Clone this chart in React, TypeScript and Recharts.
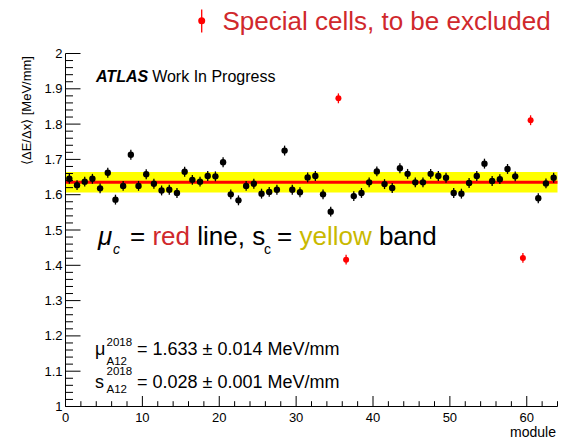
import React from "react";
import {
  ScatterChart,
  Scatter,
  XAxis,
  YAxis,
  ErrorBar,
  ReferenceArea,
  ReferenceLine,
} from "recharts";

// mean dE/dx per module, A12 cells, 2018
const VALUES = [
  1.645, 1.627, 1.637, 1.645, 1.618, 1.662, 1.586, 1.625, 1.713, 1.625,
  1.658, 1.631, 1.612, 1.614, 1.605, 1.665, 1.642, 1.637, 1.653, 1.652,
  1.692, 1.601, 1.584, 1.625, 1.631, 1.603, 1.608, 1.614, 1.725, 1.614,
  1.607, 1.649, 1.653, 1.601, 1.552, 1.873, 1.416, 1.596, 1.605, 1.635,
  1.666, 1.630, 1.619, 1.675, 1.659, 1.635, 1.635, 1.659, 1.653, 1.648,
  1.605, 1.603, 1.633, 1.653, 1.688, 1.639, 1.644, 1.673, 1.652, 1.421,
  1.811, 1.590, 1.632, 1.648,
];
const SPECIAL_MODULES = [35, 36, 59, 60];
const ERR = 0.014;

const MU = 1.635;
const SIGMA = 0.029;

const X_LABELS = [0, 10, 20, 30, 40, 50, 60];
const X_TICKS = [
  0, 2, 4, 6, 8, 10, 12, 14, 16, 18, 20, 22, 24, 26, 28, 30, 32, 34, 36, 38,
  40, 42, 44, 46, 48, 50, 52, 54, 56, 58, 60, 62, 64,
];
const Y_LABELS = [1, 1.1, 1.2, 1.3, 1.4, 1.5, 1.6, 1.7, 1.8, 1.9, 2];
const Y_TICKS = [
  1, 1.02, 1.04, 1.06, 1.08, 1.1, 1.12, 1.14, 1.16, 1.18, 1.2, 1.22, 1.24,
  1.26, 1.28, 1.3, 1.32, 1.34, 1.36, 1.38, 1.4, 1.42, 1.44, 1.46, 1.48, 1.5,
  1.52, 1.54, 1.56, 1.58, 1.6, 1.62, 1.64, 1.66, 1.68, 1.7, 1.72, 1.74, 1.76,
  1.78, 1.8, 1.82, 1.84, 1.86, 1.88, 1.9, 1.92, 1.94, 1.96, 1.98, 2,
];

const FONT = "'Liberation Sans', Arial, Helvetica, sans-serif";

const points = VALUES.map((v, i) => ({ x: i + 0.5, y: v, err: ERR, mod: i }));
const normalData = points.filter((p) => !SPECIAL_MODULES.includes(p.mod));
const specialData = points.filter((p) => SPECIAL_MODULES.includes(p.mod));

const isMajorX = (v: number) => X_LABELS.includes(v);
const isMajorY = (v: number) => Y_LABELS.some((l) => Math.abs(l - v) < 1e-6);

function BottomTick(props: any) {
  const { x, y, payload } = props;
  const major = isMajorX(payload.value);
  return (
    <g>
      <line x1={x} x2={x} y1={y} y2={y - (major ? 10.5 : 5.3)} stroke="#000" />
      {major && (
        <text x={x} y={y + 15} textAnchor="middle" fontSize={13} fontFamily={FONT} fill="#000">
          {payload.value}
        </text>
      )}
    </g>
  );
}

function TopTick(props: any) {
  const { x, y, payload } = props;
  const major = isMajorX(payload.value);
  return <line x1={x} x2={x} y1={y} y2={y + (major ? 10.5 : 5.3)} stroke="#000" />;
}

function LeftTick(props: any) {
  const { x, y, payload } = props;
  const major = isMajorY(payload.value);
  const v: number = payload.value;
  const label = Math.abs(v - Math.round(v)) < 1e-6 ? String(Math.round(v)) : v.toFixed(1);
  return (
    <g>
      <line x1={x} x2={x + (major ? 15 : 7.5)} y1={y} y2={y} stroke="#000" />
      {major && (
        <text x={x - 3} y={y + 4.5} textAnchor="end" fontSize={13} fontFamily={FONT} fill="#000">
          {label}
        </text>
      )}
    </g>
  );
}

function RightTick(props: any) {
  const { x, y, payload } = props;
  const major = isMajorY(payload.value);
  return <line x1={x} x2={x - (major ? 15 : 7.5)} y1={y} y2={y} stroke="#000" />;
}

const BlackDot = (p: any) => <circle cx={p.cx} cy={p.cy} r={3.2} fill="#000" />;
const RedDot = (p: any) => <circle cx={p.cx} cy={p.cy} r={3} fill="#ff0000" />;

export default function App() {
  return (
    <div style={{ position: "absolute", left: 0, top: 0, width: 562, height: 441, background: "#fff" }}>
      <ScatterChart
        width={562}
        height={441}
        margin={{ top: 53.5, right: 4.5, bottom: 4.5, left: 0 }}
      >
        <XAxis
          xAxisId={0}
          type="number"
          dataKey="x"
          domain={[0, 64]}
          ticks={X_TICKS}
          interval={0}
          allowDataOverflow
          height={30}
          tickSize={0}
          tickMargin={0}
          tickLine={false}
          axisLine={{ stroke: "#000" }}
          tick={<BottomTick />}
        />
        <XAxis
          xAxisId="top"
          orientation="top"
          type="number"
          dataKey="x"
          domain={[0, 64]}
          ticks={X_TICKS}
          interval={0}
          allowDataOverflow
          height={0}
          tickSize={0}
          tickMargin={0}
          tickLine={false}
          axisLine={{ stroke: "#000" }}
          tick={<TopTick />}
        />
        <YAxis
          yAxisId={0}
          type="number"
          dataKey="y"
          domain={[1, 2]}
          ticks={Y_TICKS}
          interval={0}
          allowDataOverflow
          width={65.5}
          tickSize={0}
          tickMargin={0}
          tickLine={false}
          axisLine={{ stroke: "#000" }}
          tick={<LeftTick />}
        />
        <YAxis
          yAxisId="right"
          orientation="right"
          type="number"
          domain={[1, 2]}
          ticks={Y_TICKS}
          interval={0}
          allowDataOverflow
          width={0}
          tickSize={0}
          tickMargin={0}
          tickLine={false}
          axisLine={{ stroke: "#000" }}
          tick={<RightTick />}
        />
        {/* s_c band and mu_c line */}
        <ReferenceArea x1={0} x2={64} y1={MU - SIGMA} y2={MU + SIGMA} fill="#ffff00" fillOpacity={1} stroke="none" />
        <ReferenceLine y={MU} stroke="#ff0000" strokeWidth={3} />
        <Scatter data={normalData} dataKey="y" shape={BlackDot} isAnimationActive={false}>
          <ErrorBar dataKey="err" direction="y" width={0} stroke="#000" strokeWidth={1.3} isAnimationActive={false} />
        </Scatter>
        <Scatter data={specialData} dataKey="y" shape={RedDot} isAnimationActive={false}>
          <ErrorBar dataKey="err" direction="y" width={0} stroke="#ff0000" strokeWidth={1.3} isAnimationActive={false} />
        </Scatter>
      </ScatterChart>

      <svg
        width={562}
        height={441}
        style={{ position: "absolute", left: 0, top: 0, pointerEvents: "none" }}
        fontFamily={FONT}
      >
        {/* legend */}
        <line x1={201.7} x2={201.7} y1={9.5} y2={32.5} stroke="#ff0000" strokeWidth={1.3} />
        <circle cx={201.7} cy={20.7} r={3.5} fill="#ff0000" />
        <text x={222.5} y={30} fontSize={26} fill="#d0282c">
          Special cells, to be excluded
        </text>

        <text x={96} y={81.7} fontSize={16} fill="#000">
          <tspan fontWeight="bold" fontStyle="italic">ATLAS</tspan>
          <tspan dx={4}>Work In Progress</tspan>
        </text>

        {/* band explanation */}
        <text x={98} y={245} fontSize={26} fontStyle="italic" fill="#000">μ</text>
        <text x={113} y={254} fontSize={14} fontStyle="italic" fill="#000">c</text>
        <text x={130} y={245} fontSize={26} fill="#000">
          = <tspan fill="#d0282c">red</tspan> line, s
        </text>
        <text x={264} y={254} fontSize={14} fill="#000">c</text>
        <text x={277} y={245} fontSize={26} fill="#000">
          = <tspan fill="#c9b900">yellow</tspan> band
        </text>

        {/* fit summary */}
        <text x={95} y={355} fontSize={18} fill="#000">μ</text>
        <text x={106.5} y={346} fontSize={11.5} fill="#000">2018</text>
        <text x={106.5} y={365} fontSize={11.5} fill="#000">A12</text>
        <text x={137} y={355} fontSize={18} fill="#000">= 1.633 ± 0.014 MeV/mm</text>
        <text x={95} y={388} fontSize={18} fill="#000">s</text>
        <text x={106.5} y={375} fontSize={11.5} fill="#000">2018</text>
        <text x={106.5} y={393} fontSize={11.5} fill="#000">A12</text>
        <text x={137} y={388} fontSize={18} fill="#000">= 0.028 ± 0.001 MeV/mm</text>

        {/* axis titles */}
        <text
          x={31}
          y={56}
          transform="rotate(-90 31 56)"
          textAnchor="end"
          fontSize={13}
          fill="#000"
        >
          ⟨ΔE/Δx⟩ [MeV/mm]
        </text>
        <text x={556} y={437} textAnchor="end" fontSize={14} fill="#000">
          module
        </text>
      </svg>
    </div>
  );
}
